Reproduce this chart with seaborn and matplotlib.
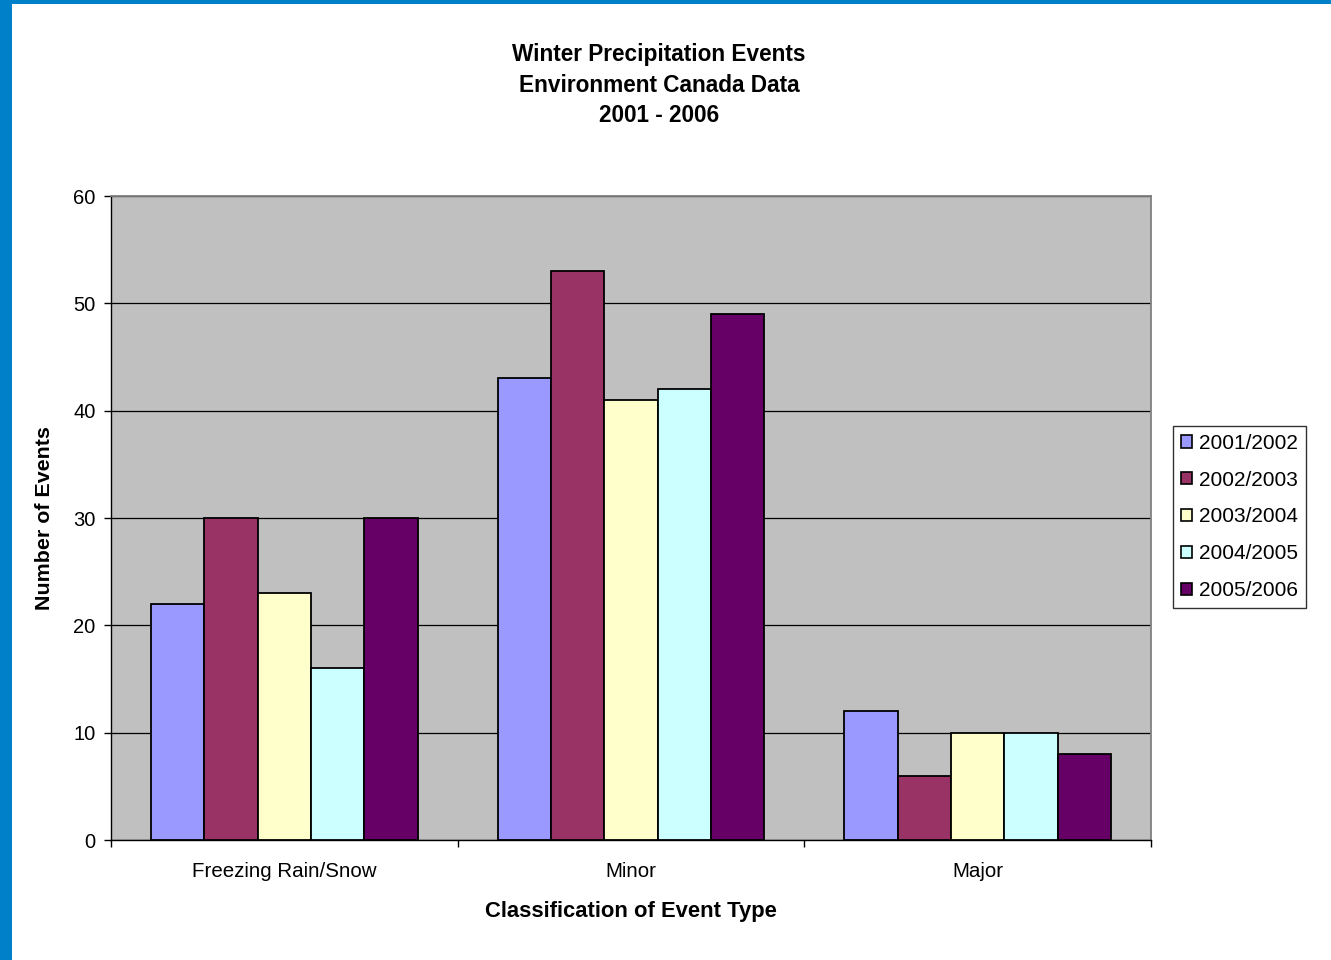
import matplotlib
matplotlib.use("Agg")
import matplotlib.pyplot as plt
from matplotlib.patches import Patch, Rectangle
import seaborn as sns
import pandas as pd

categories = ["Freezing Rain/Snow", "Minor", "Major"]
seasons = ["2001/2002", "2002/2003", "2003/2004", "2004/2005", "2005/2006"]
freezing = [22, 30, 23, 16, 30]
minor = [43, 53, 41, 42, 49]
major = [12, 6, 10, 10, 8]
colors = ["#9999FF", "#993366", "#FFFFCC", "#CCFFFF", "#660066"]
yticks = [0, 10, 20, 30, 40, 50, 60]

rows = []
for cat, vals in zip(categories, [freezing, minor, major]):
    for s, v in zip(seasons, vals):
        rows.append({"Type": cat, "Season": s, "Events": v})
df = pd.DataFrame(rows)

sns.set_theme(style="white")
plt.rcParams["font.family"] = ["Liberation Sans", "DejaVu Sans"]
plt.rcParams["text.color"] = "black"
plt.rcParams["axes.labelcolor"] = "black"
plt.rcParams["xtick.color"] = "black"
plt.rcParams["ytick.color"] = "black"

W, H = 1331, 960
fig = plt.figure(figsize=(W / 100, H / 100), dpi=100)
fig.patch.set_facecolor("white")

# blue frame on the left and top edges
fig.patches.append(Rectangle((0, 0), 12 / W, 1, transform=fig.transFigure,
                             facecolor="#0080C8", edgecolor="none", zorder=0))
fig.patches.append(Rectangle((0, 1 - 4 / H), 1, 4 / H, transform=fig.transFigure,
                             facecolor="#0080C8", edgecolor="none", zorder=0))

ax = fig.add_axes([111 / W, 1 - 840 / H, (1151 - 111) / W, (840 - 196) / H])
ax.set_facecolor("#C0C0C0")

sns.barplot(data=df, x="Type", y="Events", hue="Season", order=categories,
            hue_order=seasons, palette=colors, width=0.77, gap=0,
            edgecolor="black", linewidth=1.3, saturation=1, ax=ax,
            legend=False, zorder=3)

ax.set_xlim(-0.5, 2.5)
ax.set_ylim(0, 60)
ax.set_yticks(yticks)
ax.yaxis.grid(True, color="black", linewidth=0.9, zorder=1)
ax.set_axisbelow(True)

for side in ["top", "right"]:
    ax.spines[side].set_color("#808080")
    ax.spines[side].set_linewidth(1.3)
ax.spines["left"].set_color("black")
ax.spines["left"].set_linewidth(1.0)
ax.spines["bottom"].set_color("black")
ax.spines["bottom"].set_linewidth(1.0)

ax.tick_params(axis="y", which="major", direction="out", length=5, width=1,
               color="black", labelsize=14.5, pad=6, left=True,
               labelcolor="black")
ax.tick_params(axis="x", which="major", length=0, labelsize=14.8, pad=16,
               labelcolor="black")
ax.set_xticks([-0.5, 0.5, 1.5, 2.5], minor=True)
ax.tick_params(axis="x", which="minor", direction="out", length=5, width=1,
               color="black", bottom=True)

ax.set_xlabel("Classification of Event Type", fontsize=15.8, fontweight="bold",
              labelpad=14, color="black")
ax.set_ylabel("Number of Events", fontsize=15.4, fontweight="bold",
              labelpad=14, color="black")

for i, line in enumerate(["Winter Precipitation Events",
                          "Environment Canada Data", "2001 - 2006"]):
    fig.text(659 / W, 1 - (54 + 31 * i) / H, line, ha="center", va="center",
             fontsize=16.3, fontweight="bold", color="black")

handles = [Patch(facecolor=c, edgecolor="black", linewidth=1.2) for c in colors]
leg = fig.legend(handles, seasons, loc="center left",
                 bbox_to_anchor=(1173 / W, 1 - 517 / H), fontsize=15,
                 frameon=True, fancybox=False, edgecolor="black",
                 handlelength=0.55, handleheight=0.55, handletextpad=0.3,
                 labelspacing=0.86, borderpad=0.38, borderaxespad=0)
leg.get_frame().set_linewidth(1.0)
for t in leg.get_texts():
    t.set_color("black")

fig.savefig("out.png", dpi=100, facecolor="white")
